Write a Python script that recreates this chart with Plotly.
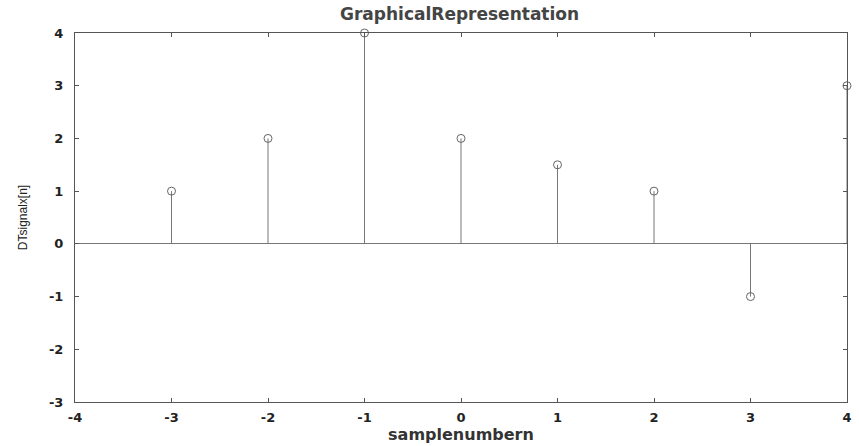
import plotly.graph_objects as go

n = [-3, -2, -1, 0, 1, 2, 3, 4]
x_vals = [1, 2, 4, 2, 1.5, 1, -1, 3]
x_ticks = [-4, -3, -2, -1, 0, 1, 2, 3, 4]
y_ticks = [-3, -2, -1, 0, 1, 2, 3, 4]

stem_x, stem_y = [], []
for a, b in zip(n, x_vals):
    stem_x += [a, a, None]
    stem_y += [0, b, None]

fig = go.Figure()
fig.add_trace(go.Scatter(x=stem_x, y=stem_y, mode="lines",
                         line=dict(color="#777777", width=1), hoverinfo="skip"))
fig.add_trace(go.Scatter(x=n, y=x_vals, mode="markers",
                         marker=dict(symbol="circle-open", size=8,
                                     color="#666666", line=dict(width=1)),
                         cliponaxis=False))

tickfont = dict(family="DejaVu Sans", size=13, color="#222", weight="bold")
axis_common = dict(showgrid=False, ticks="inside", ticklen=4, tickcolor="#555",
                   showline=True, linecolor="#555", linewidth=1, mirror="ticks",
                   tickfont=tickfont)

fig.update_layout(
    width=859, height=446,
    margin=dict(l=75, r=7, t=33, b=43),
    paper_bgcolor="white", plot_bgcolor="white",
    showlegend=False,
    title=dict(text="GraphicalRepresentation", x=0.535, xanchor="center",
               y=0.982, yanchor="top",
               font=dict(family="DejaVu Sans", size=17, color="#444", weight="bold")),
    xaxis=dict(range=[-4, 4], tickvals=x_ticks, ticktext=[str(v) for v in x_ticks],
               zeroline=False, ticklabelstandoff=3,
               title=dict(text="samplenumbern", standoff=3,
                          font=dict(family="DejaVu Sans", size=16, color="#333", weight="bold")),
               **axis_common),
    yaxis=dict(range=[-3, 4], tickvals=y_ticks, ticktext=[str(v) for v in y_ticks],
               zeroline=True, zerolinecolor="#777", zerolinewidth=1,
               ticklabelstandoff=8,
               title=dict(text="DTsignalx[n]", standoff=18,
                          font=dict(family="Liberation Sans", size=12, color="#222")),
               **axis_common),
)

fig.write_html("out.html")
